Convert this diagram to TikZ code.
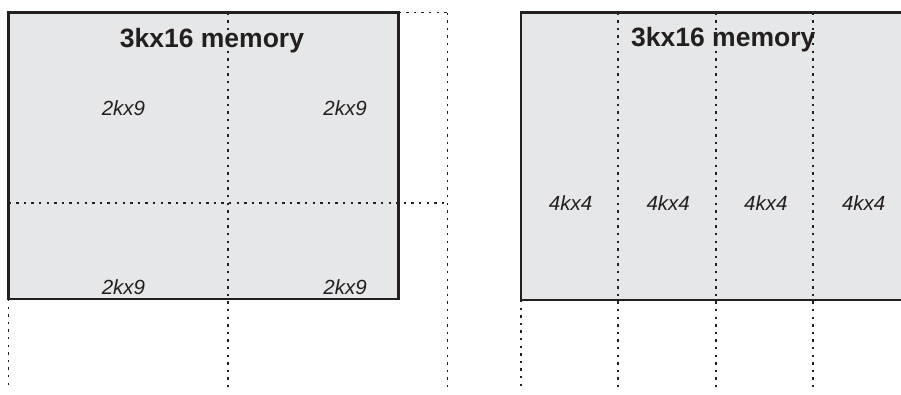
\documentclass[tikz,border=0pt]{standalone}
\usepackage{fontspec}
\setmainfont{Liberation Sans}
\begin{document}
\begin{tikzpicture}[x=1pt,y=-1pt,
  membox/.style={fill=memfill,draw=ink,line width=2.2pt},
  grid/.style={draw=ink,line width=1.25pt,dash pattern=on 2.4pt off 5.2pt},
  title/.style={anchor=base,inner sep=0pt,text=ink,font=\fontsize{26.5}{30}\selectfont\bfseries},
  part/.style={anchor=base,inner sep=0pt,text=ink,font=\fontsize{20.5}{24}\selectfont\itshape}]
\definecolor{memfill}{HTML}{E6E7E8}
\definecolor{ink}{HTML}{231F20}
\useasboundingbox (0,0) rectangle (901,394);
% left memory
\coordinate (LA) at (8.5,12.5);
\coordinate (LB) at (398.5,299);
\draw[membox] (LA) rectangle (LB);
\coordinate (lv1t) at (228,12.5);   \coordinate (lv1b) at (228,390);
\coordinate (lv0t) at (8.5,299);    \coordinate (lv0b) at (8.5,390);
\coordinate (lv2t) at (447.5,12.5); \coordinate (lv2b) at (447.5,390);
\coordinate (lh1l) at (8.5,203);    \coordinate (lh1r) at (447.5,203);
\coordinate (lh0l) at (398.5,12.5);
\draw[grid] (lv1t) -- (lv1b);
\draw[grid] (lv0t) -- (lv0b);
\draw[grid] (lv2t) -- (lv2b);
\draw[grid] (lh1l) -- (lh1r);
\draw[grid] (lh0l) -- (lv2t);
\node[title] (lt) at (212,47.7) {3kx16 memory};
\node[part] (l1) at (123.5,115) {2kx9};
\node[part] (l2) at (345,115) {2kx9};
\node[part] (l3) at (123.5,294) {2kx9};
\node[part] (l4) at (345,294) {2kx9};
% right memory
\coordinate (RA) at (521,12.5);
\coordinate (RB) at (911,300);
\draw[membox] (RA) rectangle (RB);
\coordinate (rv0t) at (521,300); \coordinate (rv0b) at (521,390);
\coordinate (rv1t) at (618,12.5); \coordinate (rv1b) at (618,390);
\coordinate (rv2t) at (716,12.5); \coordinate (rv2b) at (716,390);
\coordinate (rv3t) at (813,12.5); \coordinate (rv3b) at (813,390);
\draw[grid] (rv0t) -- (rv0b);
\draw[grid] (rv1t) -- (rv1b);
\draw[grid] (rv2t) -- (rv2b);
\draw[grid] (rv3t) -- (rv3b);
\node[title] (rt) at (723.3,46.7) {3kx16 memory};
\node[part] (r1) at (570.5,210) {4kx4};
\node[part] (r2) at (668.2,210) {4kx4};
\node[part] (r3) at (765.8,210) {4kx4};
\node[part] (r4) at (863.7,210) {4kx4};
\end{tikzpicture}
\end{document}
